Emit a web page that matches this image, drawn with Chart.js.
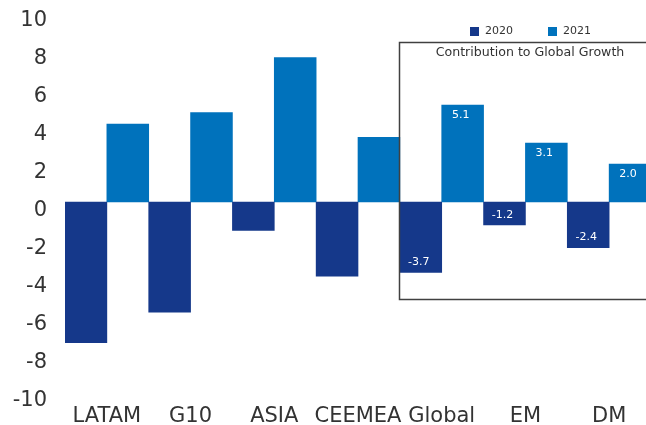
<!DOCTYPE html>
<html><head><meta charset="utf-8">
<script src="https://cdn.jsdelivr.net/npm/chart.js@4/dist/chart.umd.min.js"></script>
<style>html,body{margin:0;padding:0;background:#fff;overflow:hidden}
#wrap{width:652px;height:425px;position:relative}</style>
</head><body><div id="wrap"><canvas id="c"></canvas></div>
<script>
const categories = ['LATAM','G10','ASIA','CEEMEA','Global','EM','DM'];
const values2020 = [-7.4,-5.8,-1.5,-3.9,-3.7,-1.2,-2.4];
const values2021 = [4.1,4.7,7.6,3.4,5.1,3.1,2.0];
const seriesNames = ['2020','2021'];
const yTickMin = -10, yTickMax = 10, yTickStep = 2;
const boxTitle = 'Contribution to Global Growth';
const labelledCategories = ['Global','EM','DM'];

const colors = ['#15388A', '#0072BC'];
const textColor = '#333333';
const FONT = 'DejaVu Sans';

const overlay = {
  id: 'overlay',
  afterDatasetsDraw(chart) {
    const ctx = chart.ctx;
    const x = chart.scales.x, y = chart.scales.y;
    ctx.save();
    // value labels
    ctx.font = '11px "' + FONT + '"';
    ctx.fillStyle = '#ffffff';
    ctx.textAlign = 'center';
    ctx.textBaseline = 'middle';
    chart.data.datasets.forEach((ds, di) => {
      const meta = chart.getDatasetMeta(di);
      categories.forEach((c, i) => {
        if (!labelledCategories.includes(c)) return;
        const v = ds.data[i];
        const el = meta.data[i];
        const ly = v >= 0 ? el.y + 10 : el.y - 10;
        ctx.fillText(v.toFixed(1), el.x - 2, ly);
      });
    });
    // box
    const i0 = categories.indexOf(labelledCategories[0]);
    const left = Math.round((x.getPixelForValue(i0 - 1) + x.getPixelForValue(i0)) / 2) - 0.5;
    const top = Math.round(y.getPixelForValue(8.42)) + 0.5;
    const bottom = Math.round(y.getPixelForValue(-5.1)) + 0.5;
    ctx.strokeStyle = '#404040';
    ctx.lineWidth = 1.5;
    ctx.beginPath();
    ctx.moveTo(chart.width + 20, top);
    ctx.lineTo(left, top);
    ctx.lineTo(left, bottom);
    ctx.lineTo(chart.width + 20, bottom);
    ctx.stroke();
    // box title
    ctx.fillStyle = textColor;
    ctx.font = '12.6px "' + FONT + '"';
    ctx.textBaseline = 'middle';
    ctx.fillText(boxTitle, 530, top + 10);
    // legend
    ctx.font = '11px "' + FONT + '"';
    ctx.textAlign = 'left';
    const lx = [470, 548];
    chart.data.datasets.forEach((ds, di) => {
      ctx.fillStyle = ds.backgroundColor;
      ctx.fillRect(lx[di], 27, 9, 9);
      ctx.fillStyle = textColor;
      ctx.fillText(ds.label, lx[di] + 15, 31.5);
    });
    ctx.restore();
  }
};

new Chart(document.getElementById('c'), {
  type: 'bar',
  data: {
    labels: categories,
    datasets: [
      { label: seriesNames[0], data: values2020, backgroundColor: colors[0], borderWidth: 0 },
      { label: seriesNames[1], data: values2021, backgroundColor: colors[1], borderWidth: 0 }
    ]
  },
  options: {
    responsive: true,
    maintainAspectRatio: false,
    devicePixelRatio: 1,
    animation: false,
    categoryPercentage: 1,
    barPercentage: 1,
    layout: { padding: { top: 12, right: 1, left: 0, bottom: 0 } },
    plugins: { legend: { display: false }, tooltip: { enabled: false } },
    scales: {
      x: {
        grid: { display: false, drawTicks: false },
        border: { display: false },
        ticks: { font: { family: FONT, size: 21 }, color: textColor, padding: 12, maxRotation: 0, autoSkip: false },
        afterFit(s) { s.height = 33; }
      },
      y: {
        min: yTickMin, max: yTickMax,
        grid: { display: false, drawTicks: false },
        border: { display: false },
        ticks: { stepSize: yTickStep, font: { family: FONT, size: 21 }, color: textColor, padding: 18, labelOffset: 9 },
        afterFit(s) { s.width = 65; s.paddingTop = 0; s.paddingBottom = 0; }
      }
    }
  },
  plugins: [overlay]
});
</script>
</body></html>
